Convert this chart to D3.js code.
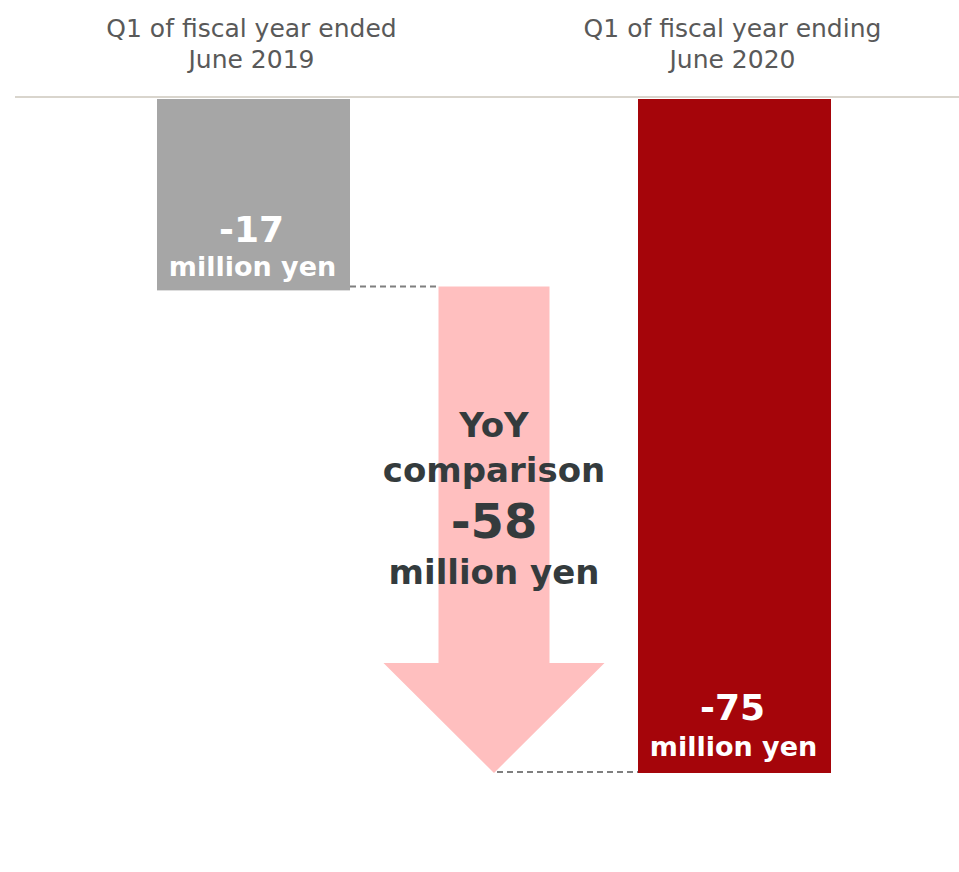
<!DOCTYPE html>
<html>
<head>
<meta charset="utf-8">
<script src="https://cdn.jsdelivr.net/npm/d3@7"></script>
<style>
  html, body { margin: 0; padding: 0; background: #fff; }
  svg { display: block; font-family: "DejaVu Sans", Verdana, sans-serif; }
</style>
</head>
<body>
<svg id="chart" width="959" height="872"></svg>
<script>
// Quarterly result (million yen), one bar per fiscal quarter
const categories = ["Q1 FY2019", "Q1 FY2020"];
const categoryLines = [
  ["Q1 of fiscal year ended", "June 2019"],
  ["Q1 of fiscal year ending", "June 2020"]
];
const values = [-17, -75];
const barColors = ["#a6a6a6", "#a5050a"];
const unitLabel = "million yen";
const changeLabel = ["YoY", "comparison"];

const change = values[1] - values[0]; // -58
// Plain hyphen for negative numbers
const fmt = d3.formatLocale({ decimal: ".", thousands: ",", grouping: [3], currency: ["", ""], minus: "-" }).format("d");

const width = 959, height = 872;
const svg = d3.select("#chart");

// Value axis runs downward from the baseline; top of the axis sits slightly above zero
const y = d3.scaleLinear().domain([6, -75]).range([99, 773]);
const x = d3.scalePoint().domain(categories).range([253.5, 734.5]);
const barW = 193;

// Baseline rule
svg.append("line")
  .attr("x1", 15).attr("x2", width)
  .attr("y1", 97).attr("y2", 97)
  .attr("stroke", "#d9d5cd").attr("stroke-width", 2);

// Category labels above the baseline
categories.forEach((c, i) => {
  const t = svg.append("text")
    .attr("x", x(c) - 2).attr("y", 37)
    .attr("text-anchor", "middle")
    .attr("fill", "#595959")
    .attr("font-size", 25);
  categoryLines[i].forEach((line, j) => {
    t.append("tspan").attr("x", x(c) - 2).attr("dy", j === 0 ? 0 : 31).text(line);
  });
});

// Bars hanging from the baseline
svg.selectAll("rect.bar")
  .data(values)
  .join("rect")
  .attr("class", "bar")
  .attr("x", (d, i) => x(categories[i]) - barW / 2)
  .attr("width", barW)
  .attr("y", y.range()[0])
  .attr("height", d => y(d) - y.range()[0])
  .attr("fill", (d, i) => barColors[i]);

// Connector lines (dashed)
const y0 = y(values[0]) - 4;
const y1 = y(values[1]);
const cx = (x(categories[0]) + x(categories[1])) / 2;
const shaftW = 111, headW = 221, headH = 110;

svg.append("line")
  .attr("x1", x(categories[0]) + barW / 2).attr("x2", cx - shaftW / 2)
  .attr("y1", y0).attr("y2", y0)
  .attr("stroke", "#7f7f7f").attr("stroke-width", 2)
  .attr("stroke-dasharray", "6,4");
svg.append("line")
  .attr("x1", cx + 3).attr("x2", x(categories[1]) - barW / 2)
  .attr("y1", y1 - 1).attr("y2", y1 - 1)
  .attr("stroke", "#7f7f7f").attr("stroke-width", 2)
  .attr("stroke-dasharray", "6,4");

// Down arrow showing the year-on-year change
const arrow = d3.path();
arrow.moveTo(cx - shaftW / 2, y0);
arrow.lineTo(cx + shaftW / 2, y0);
arrow.lineTo(cx + shaftW / 2, y1 - headH);
arrow.lineTo(cx + headW / 2, y1 - headH);
arrow.lineTo(cx, y1);
arrow.lineTo(cx - headW / 2, y1 - headH);
arrow.lineTo(cx - shaftW / 2, y1 - headH);
arrow.closePath();
svg.append("path").attr("d", arrow.toString()).attr("fill", "#ffbfbf");

// Value labels inside the bars
const barLabelY = [[242, 276], [720, 756]];
values.forEach((v, i) => {
  const g = svg.append("g").attr("fill", "#fff").attr("font-weight", "bold").attr("text-anchor", "middle");
  g.append("text").attr("x", x(categories[i]) - 2).attr("y", barLabelY[i][0])
    .attr("font-size", 36).text(fmt(v));
  g.append("text").attr("x", x(categories[i]) - 1).attr("y", barLabelY[i][1])
    .attr("font-size", 27).text(unitLabel);
});

// Change label over the arrow
const cg = svg.append("g").attr("fill", "#343b3d").attr("font-weight", "bold").attr("text-anchor", "middle");
cg.append("text").attr("x", cx).attr("y", 437).attr("font-size", 34).text(changeLabel[0]);
cg.append("text").attr("x", cx).attr("y", 482).attr("font-size", 34).text(changeLabel[1]);
cg.append("text").attr("x", cx).attr("y", 538).attr("font-size", 48).text(fmt(change));
cg.append("text").attr("x", cx).attr("y", 584).attr("font-size", 34).text(unitLabel);
</script>
</body>
</html>
